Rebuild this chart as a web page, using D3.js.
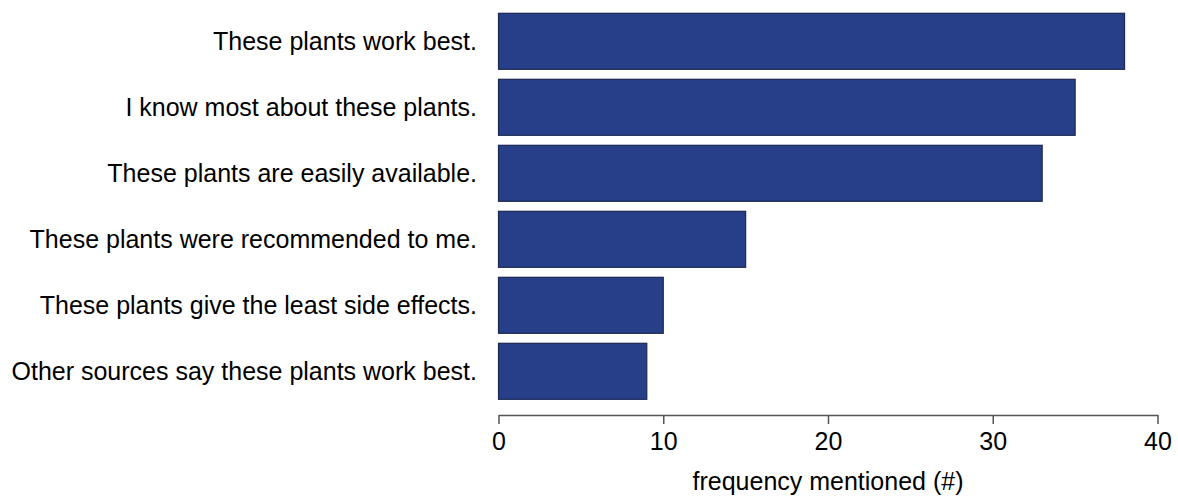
<!DOCTYPE html>
<html>
<head>
<meta charset="utf-8">
<script src="https://cdn.jsdelivr.net/npm/d3@7"></script>
<style>
  body { margin: 0; background: #fff; }
  text { font-family: "Liberation Sans", Arial, sans-serif; fill: #000; }
</style>
</head>
<body>
<div id="chart"></div>
<script>
// Data
const categories = [
  "These plants work best.",
  "I know most about these plants.",
  "These plants are easily available.",
  "These plants were recommended to me.",
  "These plants give the least side effects.",
  "Other sources say these plants work best."
];
const counts = [38, 35, 33, 15, 10, 9];
const xTicks = [0, 10, 20, 30, 40];
const xTitle = "frequency mentioned (#)";

const W = 1178, H = 496;

const svg = d3.select("#chart").append("svg")
  .attr("width", W).attr("height", H);

// Scales
const x = d3.scaleLinear().domain([0, 40]).range([498.5, 1157.5]);
const y = d3.scaleBand().domain(categories).range([8.3, 404.3])
  .paddingInner(0.1515).paddingOuter(0.0757);

// Bars
svg.append("g").selectAll("rect")
  .data(categories)
  .join("rect")
  .attr("x", x(0))
  .attr("y", d => y(d))
  .attr("width", (d, i) => x(counts[i]) - x(0))
  .attr("height", y.bandwidth())
  .attr("fill", "#263f88")
  .attr("stroke", "#1c2652")
  .attr("stroke-width", 1.2);

// Category labels
svg.append("g").selectAll("text")
  .data(categories)
  .join("text")
  .attr("x", 477)
  .attr("y", d => y(d) + y.bandwidth() / 2)
  .attr("dy", "0.35em")
  .attr("text-anchor", "end")
  .style("font-size", "25px")
  .text(d => d);

// X axis
const xAxis = svg.append("g")
  .attr("transform", "translate(0,415)")
  .call(d3.axisBottom(x).tickValues(xTicks).tickSize(9).tickPadding(8).tickSizeOuter(0));
xAxis.select(".domain").attr("stroke", "#555").attr("stroke-width", 1.5);
xAxis.selectAll(".tick line").attr("stroke", "#555").attr("stroke-width", 1.5);
xAxis.selectAll(".tick text")
  .style("font-size", "25px")
  .style("font-family", "'Liberation Sans', Arial, sans-serif")
  .attr("fill", "#000");

// Axis title
svg.append("text")
  .attr("x", (x(0) + x(40)) / 2)
  .attr("y", 490)
  .attr("text-anchor", "middle")
  .style("font-size", "25px")
  .text(xTitle);
</script>
</body>
</html>
